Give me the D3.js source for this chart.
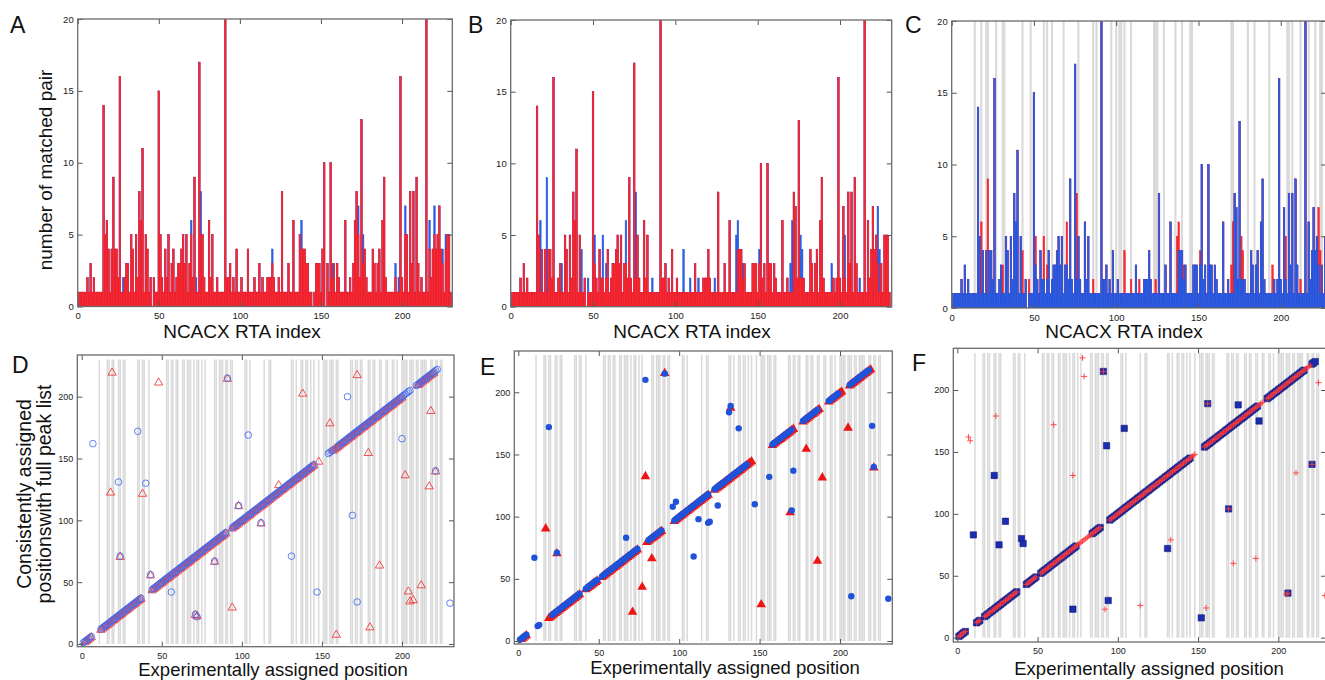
<!DOCTYPE html>
<html><head><meta charset="utf-8">
<script src="https://cdn.jsdelivr.net/npm/d3@7"></script>
<style>body{margin:0;background:#fff}svg{display:block}</style>
</head><body>
<script>
// ---------- DATA ----------
// number of matched pairs per NCACX RTA index (index = array position 0..230)
const pairsA_red = [
0,1,1,1,1,1,2,1,3,1, 2,1,1,1,1,1,14,5,6,4, 1,4,9,4,4,2,16,1,1,2, 3,3,1,5,4,1,5,2,8,6,
11,1,5,4,1,2,0,2,1,1, 15,5,2,1,4,2,5,1,3,4, 1,2,3,3,4,5,3,5,1,3, 5,2,9,1,1,17,5,5,2,1,
1,6,2,5,1,1,2,1,1,1, 1,20,2,2,3,1,2,1,4,1, 1,2,1,1,1,4,1,1,1,2, 1,1,3,1,2,1,1,2,2,2,
3,2,1,1,2,1,8,1,1,1, 3,1,1,6,1,1,1,5,4,4, 4,3,3,1,1,0,1,3,3,3, 1,4,10,0,3,1,10,2,3,1,
3,2,1,1,1,6,1,1,2,1, 3,6,8,5,2,13,3,4,2,1, 1,1,4,3,1,3,4,1,6,9, 2,1,1,1,1,1,2,1,1,16,
2,1,5,5,1,8,3,8,1,9, 3,1,2,1,1,20,1,4,2,4, 5,4,5,7,4,3,1,4,5,5, 1];
const pairsA_blue = [
0,1,1,1,1,1,2,1,3,1, 2,1,1,1,1,1,14,5,6,4, 1,4,9,4,4,2,16,1,2,2, 3,3,1,5,4,1,5,2,8,6,
11,1,5,4,1,2,0,2,1,1, 15,5,2,1,4,2,5,1,3,4, 1,2,3,3,4,5,3,5,1,3, 6,2,9,2,1,17,8,5,2,1,
1,6,2,5,1,1,2,1,1,1, 1,20,2,2,3,1,2,1,4,1, 1,2,1,1,1,4,1,1,1,2, 1,1,3,1,2,1,1,2,2,2,
4,2,1,1,2,1,8,1,1,1, 3,1,1,6,1,1,1,5,6,4, 4,3,3,1,1,0,1,3,3,3, 1,4,10,0,3,1,10,3,3,1,
3,2,1,1,1,6,1,1,2,1, 3,6,8,7,2,13,5,4,2,1, 1,1,4,3,1,3,4,1,6,9, 2,1,1,1,1,1,3,1,2,16,
2,1,7,5,1,8,3,8,1,9, 3,1,2,1,1,20,1,6,2,4, 7,4,5,7,4,4,1,5,5,5, 1];
const pairsB_red = [
0,1,1,1,1,1,2,1,3,1, 2,1,1,1,1,1,14,5,1,4, 1,4,1,4,4,2,16,1,1,2, 3,1,1,5,4,1,5,2,8,6,
11,1,5,1,1,2,0,1,1,1, 15,3,2,1,4,2,2,1,2,4, 1,2,3,3,4,5,3,5,1,3, 3,2,9,2,1,17,2,5,2,1,
1,6,2,5,1,1,1,1,1,1, 1,20,2,2,3,1,2,1,4,1, 1,2,1,1,1,1,1,1,1,1, 1,1,3,1,1,1,1,2,2,2,
4,2,1,1,1,1,8,1,1,1, 3,1,1,6,1,1,1,1,4,4, 4,2,3,1,1,1,1,3,3,3, 1,3,10,2,3,1,10,3,3,1,
3,2,1,1,1,6,1,1,2,1, 1,1,8,7,2,13,2,2,2,1, 1,1,4,3,1,3,4,1,6,9, 2,1,1,1,1,1,2,1,2,16,
2,1,7,2,1,8,3,8,1,9, 3,1,1,1,1,20,1,6,2,4, 7,4,5,3,1,3,1,5,5,5, 1];
const pairsB_blue = [
0,1,1,1,1,1,2,1,3,1, 2,1,1,1,1,1,14,5,6,4, 1,4,9,4,4,2,16,1,1,2, 3,3,1,5,4,1,5,2,8,6,
11,1,5,4,1,2,0,2,1,1, 15,5,2,1,4,2,5,1,3,4, 1,2,3,3,4,5,3,5,1,3, 6,2,9,2,1,17,8,5,2,1,
1,6,2,5,1,1,2,1,1,1, 1,20,2,2,3,1,2,1,4,1, 1,2,1,1,1,4,1,1,1,2, 1,1,3,1,2,1,1,2,2,2,
4,2,1,1,2,1,8,1,1,1, 3,1,1,6,1,1,1,5,6,4, 4,3,3,1,1,1,1,3,3,3, 1,4,10,2,3,1,10,3,3,1,
3,2,1,1,1,6,1,1,2,1, 3,6,8,7,2,13,5,4,2,1, 1,1,4,3,1,3,4,1,6,9, 2,1,1,1,1,3,2,1,2,16,
2,1,7,5,1,8,3,8,1,9, 3,1,2,1,1,20,1,6,2,4, 7,4,5,7,4,3,1,5,5,5, 1];

// grey-shaded residue positions
const shadedC = [14,18,21,22,27,31,32,43,48,56,58,61,68,77,86,88,97,100,102,103,105,109,
  123,124,125,129,136,140,145,146,170,171,180,184,193,204,205,207,212,217,221,224,225];
const shadedDEF = [11,16,17,19,20,23,24,26,27,35,36,38,39,42,53,54,56,57,59,60,63,64,66,67,68,70,
  72,73,75,77,83,84,86,87,88,90,91,93,94,102,103,105,114,117,118,131,132,134,137,138,140,141,143,
  145,148,151,152,153,155,156,157,159,160,168,169,171,172,174,175,179,180,182,183,186,187,190,191,
  194,195,197,200,201,202,203,205,206,207,209,210,212,213,214,215,218,219,221,222,224,225];

// runs of consecutive residues whose consistent assignment equals the experimental one [from,to]
const diagD_blue = [[1,6],[12,37],[44,90],[94,145],[154,157],[160,205],[209,222]];
const diagD_red  = [[2,6],[12,37],[44,90],[94,145],[148,148],[157,175],[176,200],[210,220]];
const diagE_blue = [[1,5],[12,13],[21,38],[42,49],[52,74],[81,89],[97,109],[111,118],[122,142],[158,170],[177,186],[193,199],[206,218]];
const diagE_red  = [[2,5],[19,38],[42,49],[52,74],[80,89],[97,118],[122,145],[158,171],[177,187],[193,201],[206,219]];
const diagF_blue = [[1,5],[12,14],[17,37],[43,49],[52,74],[84,89],[95,145],[154,187],[193,216],[221,223]];
const diagF_red  = [[1,5],[12,14],[17,37],[43,49],[52,89],[95,148],[154,190],[193,220]];

// off-diagonal points [experimental, consistent]
const offD_blue = [[7,162],[23,131],[35,172],[40,130],[24,71],[43,56],[56,42],[71,24],[72,22],[83,67],[91,215],[98,112],[104,169],[112,98],[131,71],[147,42],[166,200],[169,104],[172,34],[200,166],[221,140],[230,33]];
const offD_red  = [[19,220],[18,123],[38,122],[48,212],[94,30],[123,129],[138,203],[155,179],[159,8],[172,218],[179,155],[180,14],[186,64],[202,137],[204,43],[205,35],[207,36],[212,48],[217,128],[218,189],[24,71],[43,56],[71,24],[72,23],[83,67],[91,215],[98,112],[112,98],[221,140]];
const offE_blue = [[10,67],[19,172],[24,71],[79,210],[91,215],[67,83],[96,108],[98,112],[109,68],[112,98],[118,95],[119,96],[124,109],[131,184],[132,189],[137,171],[147,110],[156,132],[170,105],[171,137],[207,36],[220,173],[221,140],[230,34]];
const offE_red  = [[17,91],[24,71],[79,133],[83,67],[77,44],[71,24],[91,216],[132,188],[169,104],[179,155],[186,65],[189,132],[205,172],[151,30],[221,140]];
const offF_blue = [[10,83],[23,131],[26,75],[30,94],[40,80],[41,76],[72,23],[91,215],[93,155],[94,30],[104,169],[131,72],[152,16],[156,189],[169,104],[175,188],[188,175],[206,36],[221,140]];
const offF_red  = [[7,162],[8,159],[24,179],[60,172],[72,131],[78,226],[79,211],[92,23],[114,26],[133,79],[155,24],[172,60],[186,64],[205,35],[211,133],[225,206],[229,34],[91,215],[156,189],[169,104],[206,36],[221,140]];

const barTicksX = [0,50,100,150,200], barTicksY = [0,5,10,15,20];
const scatTicks = [0,50,100,150,200];

// ---------- DRAWING ----------
const FONT = "'Liberation Sans', Arial, Helvetica, sans-serif";
const RED_F = "#fb2a30", RED_S = "#f21a22", BLUE_F = "#2a5fe8", BLUE_S = "#1e50d8";
const svg = d3.select("body").append("svg").attr("width",1325).attr("height",680);
const defs = svg.append("defs");
let cid = 0;

function makePanel(box, xDom, yDom, xT, yT, fs, pad){
  const x = d3.scaleLinear().domain(xDom).range([box.l, box.r]);
  const y = d3.scaleLinear().domain(yDom).range([box.b, box.t]);
  const id = "clip" + (cid++);
  defs.append("clipPath").attr("id", id).append("rect")
    .attr("x", box.l).attr("y", box.t).attr("width", box.r - box.l).attr("height", box.b - box.t);
  const plot = svg.append("g").attr("clip-path", `url(#${id})`);
  return {x, y, plot, box, xT, yT, fs, pad};
}
function styleAxis(sel, fs){
  sel.select(".domain").remove();
  sel.attr("font-family", FONT).attr("font-size", fs);
  sel.selectAll(".tick line").attr("stroke", "#555").attr("stroke-width", 1);
  sel.selectAll(".tick text").attr("fill", "#222");
}
function drawFrame(p){
  const {x, y, box, fs} = p;
  const g = svg.append("g");
  g.append("g").attr("transform", `translate(0,${box.b})`)
    .call(d3.axisBottom(x).tickValues(p.xT).tickSizeInner(-5).tickSizeOuter(0).tickPadding(p.pad)).call(styleAxis, fs);
  g.append("g").attr("transform", `translate(0,${box.t})`)
    .call(d3.axisTop(x).tickValues(p.xT).tickSizeInner(-5).tickSizeOuter(0).tickFormat("")).call(styleAxis, fs);
  g.append("g").attr("transform", `translate(${box.l},0)`)
    .call(d3.axisLeft(y).tickValues(p.yT).tickSizeInner(-5).tickSizeOuter(0).tickPadding(4)).call(styleAxis, fs);
  g.append("g").attr("transform", `translate(${box.r},0)`)
    .call(d3.axisRight(y).tickValues(p.yT).tickSizeInner(-5).tickSizeOuter(0).tickFormat("")).call(styleAxis, fs);
  g.append("rect").attr("x", box.l).attr("y", box.t).attr("width", box.r - box.l).attr("height", box.b - box.t)
    .attr("fill", "none").attr("stroke", "#6b6b6b").attr("stroke-width", 1.3);
}
function drawBands(p, idx, w, lo, hi){
  p.plot.append("g").selectAll("rect").data(idx).join("rect")
    .attr("x", d => p.x(d - w/2)).attr("width", p.x(w) - p.x(0))
    .attr("y", p.y(hi)).attr("height", p.y(lo) - p.y(hi))
    .attr("fill", "#dadada");
}
function drawBars(p, vals, fill, stroke){
  const w = p.x(1) - p.x(0);
  p.plot.append("g").selectAll("rect")
    .data(vals.map((v, i) => ({i, v})).filter(d => d.v > 0)).join("rect")
    .attr("x", d => p.x(d.i - 0.5)).attr("width", w)
    .attr("y", d => p.y(d.v)).attr("height", d => p.y(0) - p.y(d.v))
    .attr("fill", fill).attr("stroke", stroke).attr("stroke-width", 0.45);
}
function pts(runs, off){
  const out = [];
  runs.forEach(([a, b]) => d3.range(a, b + 1).forEach(v => out.push([v, v])));
  return out.concat(off);
}
function text(x, y, s, size, anchor, rot){
  const t = svg.append("text").attr("x", x).attr("y", y).text(s)
    .attr("font-family", FONT).attr("font-size", size).attr("fill", "#111")
    .attr("text-anchor", anchor || "start");
  if (rot) t.attr("transform", `rotate(${rot},${x},${y})`);
  return t;
}

// ---- bar panels ----
const pA = makePanel({l:77.7, r:452.3, t:19, b:306.5}, [0,231], [0,20], barTicksX, barTicksY, 9.5, 6);
drawBars(pA, pairsA_blue, BLUE_F, BLUE_S);
drawBars(pA, pairsA_red, RED_F, RED_S);
drawFrame(pA);

const pB = makePanel({l:510.7, r:891.7, t:20, b:306.7}, [0,231.4], [0,20], barTicksX, barTicksY, 9.5, 6);
drawBars(pB, pairsB_blue, BLUE_F, BLUE_S);
drawBars(pB, pairsB_red, RED_F, RED_S);
drawFrame(pB);

const pC = makePanel({l:951.7, r:1326, t:21, b:308}, [0,227.5], [0,20], barTicksX, barTicksY, 9.5, 6);
drawBands(pC, shadedC, 1.3, 0, 20);
drawBars(pC, pairsB_blue, RED_F, RED_S);
drawBars(pC, pairsB_red, BLUE_F, BLUE_S);
drawFrame(pC);

// ---- scatter panels ----
const pD = makePanel({l:77.3, r:454, t:355, b:646.7}, [-2.75,232.5], [-2.2,233.7], scatTicks, scatTicks, 9, 6);
drawBands(pD, shadedDEF, 0.95, 0, 230);
pD.plot.append("g").selectAll("path").data(pts(diagD_red, offD_red)).join("path")
  .attr("transform", d => `translate(${pD.x(d[0])},${pD.y(d[1]) + 0.8})`)
  .attr("d", d3.symbol().type(d3.symbolTriangle).size(30))
  .attr("fill", "none").attr("stroke", "#ee3434").attr("stroke-width", 0.85);
pD.plot.append("g").selectAll("circle").data(pts(diagD_blue, offD_blue)).join("circle")
  .attr("cx", d => pD.x(d[0])).attr("cy", d => pD.y(d[1])).attr("r", 3.3)
  .attr("fill", "none").attr("stroke", "#3f6cf2").attr("stroke-width", 0.85);
drawFrame(pD);

const pE = makePanel({l:514.3, r:892.3, t:351, b:644}, [-2.5,232.5], [-2.4,233.2], scatTicks, scatTicks, 9, 6);
drawBands(pE, shadedDEF, 0.95, 0, 230);
pE.plot.append("g").selectAll("path").data(pts(diagE_red, offE_red)).join("path")
  .attr("transform", d => `translate(${pE.x(d[0])},${pE.y(d[1]) + 0.8})`)
  .attr("d", d3.symbol().type(d3.symbolTriangle).size(40))
  .attr("fill", "#ef1414");
pE.plot.append("g").selectAll("circle").data(pts(diagE_blue, offE_blue)).join("circle")
  .attr("cx", d => pE.x(d[0])).attr("cy", d => pE.y(d[1])).attr("r", 3.2)
  .attr("fill", "#1f52d8");
drawFrame(pE);

const pF = makePanel({l:953.3, r:1326, t:348.3, b:642}, [-2.5,229.7], [-3.5,233.7], scatTicks, scatTicks, 9, 6);
drawBands(pF, shadedDEF, 0.95, 0, 230);
pF.plot.append("g").selectAll("path").data(pts(diagF_blue, offF_blue)).join("path")
  .attr("transform", d => `translate(${pF.x(d[0])},${pF.y(d[1])})`)
  .attr("d", d3.symbol().type(d3.symbolSquare).size(40))
  .attr("fill", "#1b2cb0").attr("stroke", "#101c7a").attr("stroke-width", 0.6);
pF.plot.append("g").selectAll("path").data(pts(diagF_red, offF_red)).join("path")
  .attr("transform", d => `translate(${pF.x(d[0])},${pF.y(d[1])})`)
  .attr("d", "M-3,0H3M0,-3V3")
  .attr("fill", "none").attr("stroke", "#ff3a3a").attr("stroke-width", 0.9);
drawFrame(pF);

// ---- texts ----
text(10, 33, "A", 23); text(468, 33, "B", 23); text(905, 33, "C", 23);
text(12, 373, "D", 23); text(480, 375, "E", 23); text(912, 371, "F", 23);

text(242, 338, "NCACX RTA index", 19, "middle");
text(692, 338, "NCACX RTA index", 19, "middle");
text(1124, 338, "NCACX RTA index", 19, "middle");
text(52, 170, "number of matched pair", 19, "middle", -90);

text(31, 494, "Consistently assigned", 19.5, "middle", -90);
text(51, 494, "positionswith full peak list", 19.5, "middle", -90);
text(273, 676, "Experimentally assigned position", 18.5, "middle");
text(725, 674, "Experimentally assigned position", 18.5, "middle");
text(1149, 675, "Experimentally assigned position", 18.5, "middle");
</script>
</body></html>
